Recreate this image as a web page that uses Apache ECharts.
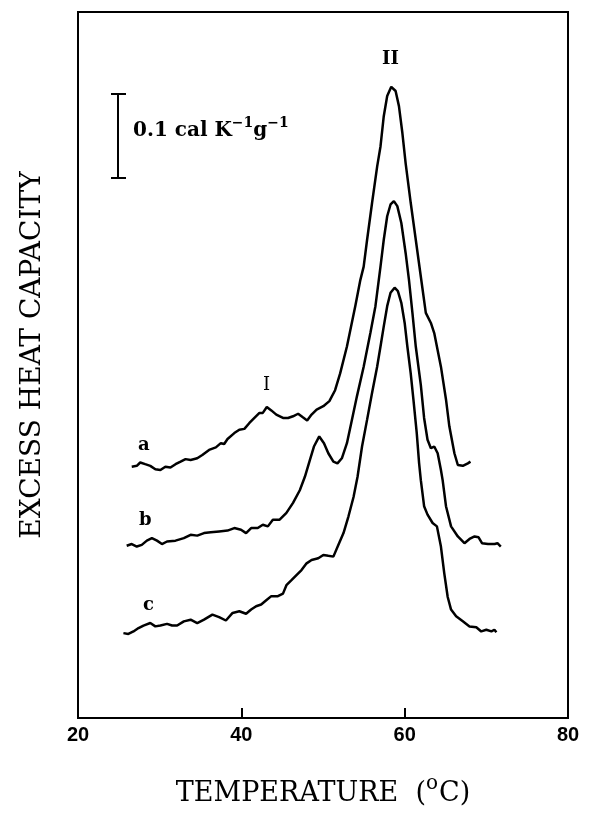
<!DOCTYPE html>
<html>
<head>
<meta charset="utf-8">
<script src="https://cdn.jsdelivr.net/npm/echarts@6/dist/echarts.min.js"></script>
<style>
  html, body { margin: 0; padding: 0; background: #fff; }
  #chart { width: 592px; height: 815px; }
</style>
</head>
<body>
<div id="chart"></div>
<script>
// temperature (°C), excess heat capacity (cal K^-1 g^-1, curves offset vertically)
const curveA = [
  [26.58, 0.299], [27.20, 0.300], [27.62, 0.304], [28.23, 0.302], [28.85, 0.300], [29.47, 0.296],
  [30.09, 0.295], [30.70, 0.299], [31.32, 0.298], [31.94, 0.302], [32.56, 0.305], [33.17, 0.308],
  [33.79, 0.307], [34.60, 0.309], [35.22, 0.313], [36.05, 0.319], [36.88, 0.322], [37.49, 0.327],
  [37.90, 0.326], [38.31, 0.332], [39.14, 0.339], [39.75, 0.343], [40.37, 0.344], [40.99, 0.351],
  [41.60, 0.357], [42.22, 0.363], [42.63, 0.363], [43.12, 0.370], [43.67, 0.366], [44.28, 0.361],
  [45.10, 0.357], [45.72, 0.357], [46.33, 0.359], [46.95, 0.362], [47.49, 0.358], [48.06, 0.354],
  [48.60, 0.361], [49.22, 0.367], [50.04, 0.371], [50.78, 0.377], [51.48, 0.390], [52.10, 0.410],
  [52.93, 0.442], [53.95, 0.490], [54.57, 0.521], [54.98, 0.537], [55.40, 0.569], [56.01, 0.613],
  [56.63, 0.656], [57.04, 0.680], [57.44, 0.716], [57.86, 0.740], [58.36, 0.751], [58.89, 0.746],
  [59.30, 0.728], [59.72, 0.696], [60.12, 0.660], [60.74, 0.613], [61.36, 0.569], [61.98, 0.525],
  [62.59, 0.482], [63.21, 0.470], [63.62, 0.458], [64.44, 0.418], [65.06, 0.379], [65.47, 0.347],
  [66.09, 0.315], [66.51, 0.301], [67.12, 0.300], [67.74, 0.303], [68.06, 0.305]
]
const curveB = [
  [25.96, 0.205], [26.58, 0.207], [27.20, 0.204], [27.81, 0.206], [28.43, 0.211], [29.05, 0.214],
  [29.67, 0.211], [30.28, 0.207], [30.90, 0.210], [31.94, 0.211], [32.96, 0.214], [33.79, 0.218],
  [34.60, 0.217], [35.43, 0.220], [36.26, 0.221], [37.28, 0.222], [38.31, 0.223], [39.14, 0.226],
  [39.96, 0.224], [40.58, 0.220], [41.20, 0.226], [42.01, 0.226], [42.63, 0.230], [43.25, 0.228],
  [43.86, 0.236], [44.69, 0.236], [45.52, 0.244], [46.33, 0.256], [47.16, 0.271], [47.78, 0.287],
  [48.40, 0.307], [48.89, 0.323], [49.54, 0.335], [50.12, 0.327], [50.65, 0.315], [51.27, 0.305],
  [51.77, 0.303], [52.31, 0.309], [52.93, 0.327], [53.46, 0.351], [54.16, 0.383], [54.98, 0.418],
  [55.80, 0.458], [56.42, 0.490], [57.04, 0.537], [57.44, 0.569], [57.86, 0.597], [58.27, 0.611],
  [58.68, 0.615], [59.10, 0.609], [59.59, 0.589], [60.12, 0.553], [60.53, 0.521], [60.95, 0.482],
  [61.36, 0.442], [61.98, 0.396], [62.38, 0.357], [62.80, 0.331], [63.21, 0.321], [63.62, 0.323],
  [64.04, 0.315], [64.44, 0.295], [64.65, 0.283], [65.06, 0.252], [65.68, 0.228], [66.51, 0.216],
  [67.32, 0.208], [67.94, 0.213], [68.56, 0.216], [69.05, 0.215], [69.47, 0.208], [70.21, 0.207],
  [71.02, 0.207], [71.36, 0.208], [71.77, 0.204]
]
const curveC = [
  [25.56, 0.101], [26.17, 0.100], [26.79, 0.103], [27.41, 0.107], [28.02, 0.110], [28.85, 0.113],
  [29.47, 0.109], [30.09, 0.110], [30.90, 0.112], [31.52, 0.110], [32.14, 0.110], [32.96, 0.115],
  [33.79, 0.117], [34.60, 0.113], [35.43, 0.117], [36.46, 0.123], [37.28, 0.120], [38.11, 0.116],
  [38.93, 0.125], [39.75, 0.127], [40.58, 0.124], [41.20, 0.129], [41.81, 0.133], [42.43, 0.135],
  [43.05, 0.140], [43.67, 0.145], [44.48, 0.145], [45.10, 0.148], [45.52, 0.158], [46.14, 0.164],
  [46.75, 0.170], [47.37, 0.176], [47.99, 0.184], [48.60, 0.188], [49.42, 0.190], [50.04, 0.194],
  [50.65, 0.193], [51.27, 0.192], [51.89, 0.206], [52.51, 0.220], [53.12, 0.240], [53.74, 0.263],
  [54.23, 0.287], [54.78, 0.323], [55.40, 0.355], [56.01, 0.387], [56.63, 0.418], [57.04, 0.442],
  [57.44, 0.466], [57.86, 0.490], [58.27, 0.506], [58.77, 0.512], [59.17, 0.508], [59.59, 0.494],
  [60.00, 0.470], [60.33, 0.442], [60.74, 0.410], [61.07, 0.379], [61.48, 0.339], [61.77, 0.303],
  [61.98, 0.283], [62.38, 0.252], [62.80, 0.242], [63.42, 0.232], [63.95, 0.228], [64.44, 0.204],
  [64.85, 0.172], [65.27, 0.144], [65.68, 0.129], [66.30, 0.121], [67.12, 0.115], [67.94, 0.109],
  [68.77, 0.108], [69.38, 0.103], [70.00, 0.105], [70.62, 0.103], [70.99, 0.105], [71.23, 0.102]
]
const xTicks = { min: 20, max: 80, interval: 20 }

const serif = 'DejaVu Serif'
const lineStyle = { color: '#000', width: 2.5 }

function curve(name, data) {
  return {
    name: name,
    type: 'line',
    data: data,
    showSymbol: false,
    smooth: false,
    lineStyle: lineStyle,
    silent: true
  }
}

const chart = echarts.init(document.getElementById('chart'))
chart.setOption({
  animation: false,
  backgroundColor: '#fff',
  grid: {
    left: 78,
    right: 24,
    top: 12,
    bottom: 97,
    show: true,
    borderColor: '#000',
    borderWidth: 2
  },
  xAxis: {
    type: 'value',
    min: xTicks.min,
    max: xTicks.max,
    interval: xTicks.interval,
    axisLine: { lineStyle: { color: '#000', width: 2 } },
    axisTick: { inside: true, length: 10, lineStyle: { color: '#000', width: 2 } },
    splitLine: { show: false },
    axisLabel: {
      color: '#000',
      fontFamily: 'Liberation Sans',
      fontWeight: 'bold',
      fontSize: 20,
      margin: 7
    },
    name: 'TEMPERATURE  ({sup|o}C)',
    nameLocation: 'middle',
    nameGap: 56,
    nameTextStyle: {
      color: '#000',
      fontFamily: serif,
      fontSize: 27,
      rich: {
        sup: { fontFamily: serif, fontSize: 20, verticalAlign: 'top', padding: [0, 1, 20, 0] }
      }
    }
  },
  yAxis: {
    type: 'value',
    min: 0,
    max: 0.84,
    axisLine: { show: false },
    axisTick: { show: false },
    axisLabel: { show: false },
    splitLine: { show: false },
    name: 'EXCESS HEAT CAPACITY',
    nameLocation: 'middle',
    nameGap: 31,
    nameRotate: 90,
    nameTextStyle: { color: '#000', fontFamily: serif, fontSize: 28, padding: [0, 0, 0, 20] }
  },
  series: [curve('a', curveA), curve('b', curveB), curve('c', curveC)],
  graphic: [
    // scale bar: 0.1 cal K-1 g-1
    { type: 'line', shape: { x1: 118, y1: 94, x2: 118, y2: 178 }, style: { stroke: '#000', lineWidth: 2 } },
    { type: 'line', shape: { x1: 111, y1: 94, x2: 126, y2: 94 }, style: { stroke: '#000', lineWidth: 2 } },
    { type: 'line', shape: { x1: 111, y1: 178, x2: 126, y2: 178 }, style: { stroke: '#000', lineWidth: 2 } },
    {
      type: 'text', left: 133, top: 116,
      style: {
        text: '0.1 cal K{sup|−1}g{sup|−1}',
        font: 'bold 20px "DejaVu Serif"',
        fill: '#000',
        rich: {
          sup: { font: 'bold 14px "DejaVu Serif"', verticalAlign: 'top', padding: [0, 0, 16, 0] }
        }
      }
    },
    { type: 'text', left: 138, top: 436, style: { text: 'a', font: 'bold 18px "DejaVu Serif"', fill: '#000' } },
    { type: 'text', left: 139, top: 511, style: { text: 'b', font: 'bold 18px "DejaVu Serif"', fill: '#000' } },
    { type: 'text', left: 143, top: 596, style: { text: 'c', font: 'bold 18px "DejaVu Serif"', fill: '#000' } },
    { type: 'text', left: 263, top: 376, style: { text: 'I', font: '18px "DejaVu Serif"', fill: '#000' } },
    { type: 'text', left: 382, top: 50, style: { text: 'II', font: 'bold 18px "DejaVu Serif"', fill: '#000' } }
  ]
})
</script>
</body>
</html>
